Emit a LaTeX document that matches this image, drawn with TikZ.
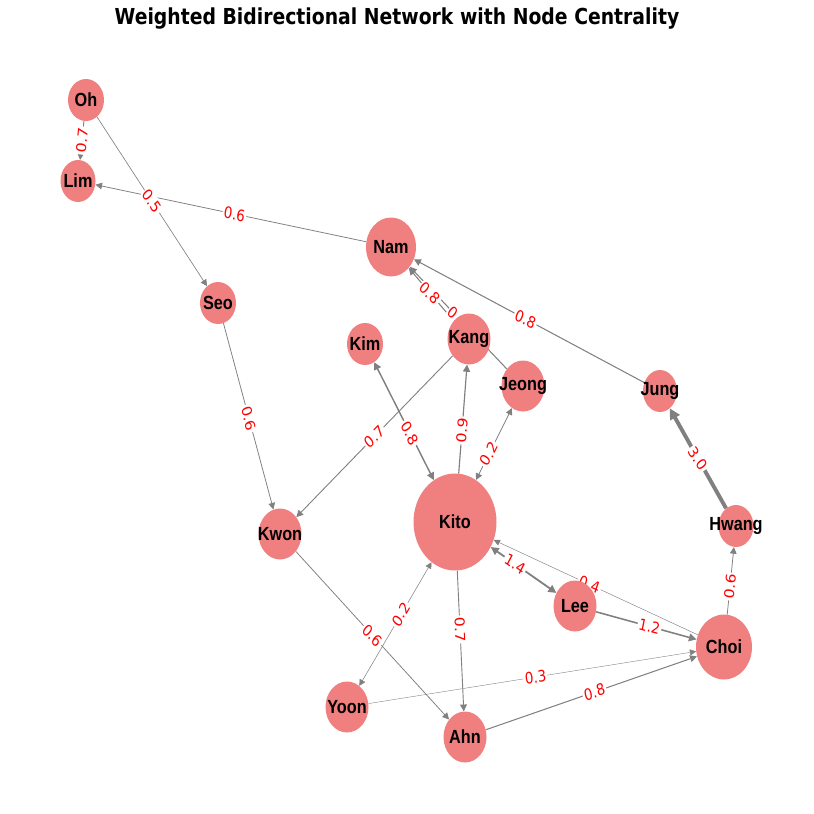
\documentclass[tikz,border=0pt]{standalone}
\usepackage{fontspec}
\setmainfont{DejaVu Sans}
\newfontfamily\vfont{Liberation Sans}
\usetikzlibrary{shapes.geometric,arrows.meta,calc}
\pgfdeclarelayer{bg}
\pgfsetlayers{bg,main}
\definecolor{lightcoral}{RGB}{240,128,128}
\definecolor{edgegray}{RGB}{128,128,128}
\newcommand{\vname}[1]{\makebox[0pt]{\scalebox{0.855}[1]{#1}}}
\newcommand{\edgelab}[4][0.5]{%
  \path let \p1=(#2.center), \p2=(#3.center),
    \n1={atan2(\y2-\y1,(\x2-\x1)/0.855)},
    \n2={(\n1>90) ? (\n1-180) : ((\n1<-90) ? (\n1+180) : \n1)}
  in ($(#2.center)!#1!(#3.center)$) node[elab, xscale=0.855, rotate=\n2, transform shape] {#4};}
\tikzset{
  vtx/.style={ellipse, fill=lightcoral, draw=none, inner sep=0pt,
    font=\vfont\fontsize{19}{22}\selectfont\bfseries},
  vs/.style={vtx, minimum width=36pt, minimum height=42pt},
  vm/.style={vtx, minimum width=43pt, minimum height=51pt},
  conn/.style={draw=edgegray, line width=#1*1.3pt,
    arrows={-Triangle[length=5.6pt 1.3, width=5.6pt 1.3]}},
  bconn/.style={draw=edgegray, line width=#1*1.3pt,
    arrows={Triangle[length=5.6pt 1.3, width=5.6pt 1.3]-Triangle[length=5.6pt 1.3, width=5.6pt 1.3]}},
  elab/.style={fill=white, text=red, inner sep=1.5pt, rounded corners=2pt,
    font=\fontsize{15.8}{18}\selectfont},
}
\begin{document}
\begin{tikzpicture}[x=1pt,y=-1pt]
\useasboundingbox (0,0) rectangle (814,814);
\node[font=\fontsize{22}{26}\selectfont\bfseries] (title) at (397,19) {\scalebox{0.855}[1]{Weighted Bidirectional Network with Node Centrality}};
% nodes
\node[vs] (Oh) at (86,100) {\vname{Oh}};
\node[vs, minimum width=35pt] (Lim) at (78,181) {\vname{Lim}};
\node[vtx, minimum width=50pt, minimum height=59pt] (Nam) at (391,247) {\vname{Nam}};
\node[vs] (Seo) at (218,303) {\vname{Seo}};
\node[vs] (Kim) at (365,344) {\vname{Kim}};
\node[vm] (Kang) at (469,339) {\vname{Kang}};
\node[vm] (Jeong) at (523,386) {\vname{Jeong}};
\node[vs, minimum width=34pt] (Jung) at (660,391) {\vname{Jung}};
\node[vtx, minimum width=83pt, minimum height=97pt] (Kito) at (455,522) {\vname{Kito}};
\node[vm] (Kwon) at (280,534) {\vname{Kwon}};
\node[vs, minimum width=35pt] (Hwang) at (736,526) {\vname{Hwang}};
\node[vm] (Lee) at (575,606) {\vname{Lee}};
\node[vtx, minimum width=56pt, minimum height=65pt] (Choi) at (724,647) {\vname{Choi}};
\node[vm] (Yoon) at (347,707) {\vname{Yoon}};
\node[vm] (Ahn) at (465,737) {\vname{Ahn}};
\begin{pgfonlayer}{bg}
% connectors
\draw[conn=0.7] (Oh) -- (Lim);
\draw[conn=0.5] (Oh) -- (Seo);
\draw[conn=0.6] (Nam) -- (Lim);
\draw[conn=0.8] (Jung) -- (Nam);
\draw[conn=0.8] (Kang) -- (Nam);
\draw[conn=0.8] (Jeong) -- (Nam);
\draw[bconn=1.1] (Kim) -- (Kito);
\draw[conn=0.7] (Kang) -- (Kwon);
\draw[conn=0.9] (Kito) -- (Kang);
\draw[bconn=0.6] (Kito) -- (Jeong);
\draw[conn=0.6] (Seo) -- (Kwon);
\draw[conn=3.0] (Hwang) -- (Jung);
\draw[conn=0.6] (Choi) -- (Hwang);
\draw[conn=0.35] (Choi) -- (Kito);
\draw[conn=1.2] (Lee) -- (Choi);
\draw[bconn=1.4] (Kito) -- (Lee);
\draw[conn=0.7] (Kito) -- (Ahn);
\draw[conn=0.6] (Kwon) -- (Ahn);
\draw[bconn=0.4] (Yoon) -- (Kito);
\draw[conn=0.3] (Yoon) -- (Choi);
\draw[conn=0.8] (Ahn) -- (Choi);
% connector labels
\edgelab{Oh}{Lim}{0.7}
\edgelab{Oh}{Seo}{0.5}
\edgelab{Nam}{Lim}{0.6}
\edgelab{Jung}{Nam}{0.8}
\edgelab{Kang}{Nam}{0.8}
\edgelab[0.515]{Jeong}{Nam}{0.}
\edgelab{Kim}{Kito}{0.8}
\edgelab{Kang}{Kwon}{0.7}
\edgelab{Kito}{Kang}{0.9}
\edgelab{Kito}{Jeong}{0.2}
\edgelab{Seo}{Kwon}{0.6}
\edgelab{Hwang}{Jung}{3.0}
\edgelab{Choi}{Hwang}{0.6}
\edgelab{Choi}{Kito}{0.4}
\edgelab{Lee}{Choi}{1.2}
\edgelab{Kito}{Lee}{1.4}
\edgelab{Kito}{Ahn}{0.7}
\edgelab{Kwon}{Ahn}{0.6}
\edgelab{Yoon}{Kito}{0.2}
\edgelab{Yoon}{Choi}{0.3}
\edgelab{Ahn}{Choi}{0.8}
\end{pgfonlayer}
\end{tikzpicture}
\end{document}
